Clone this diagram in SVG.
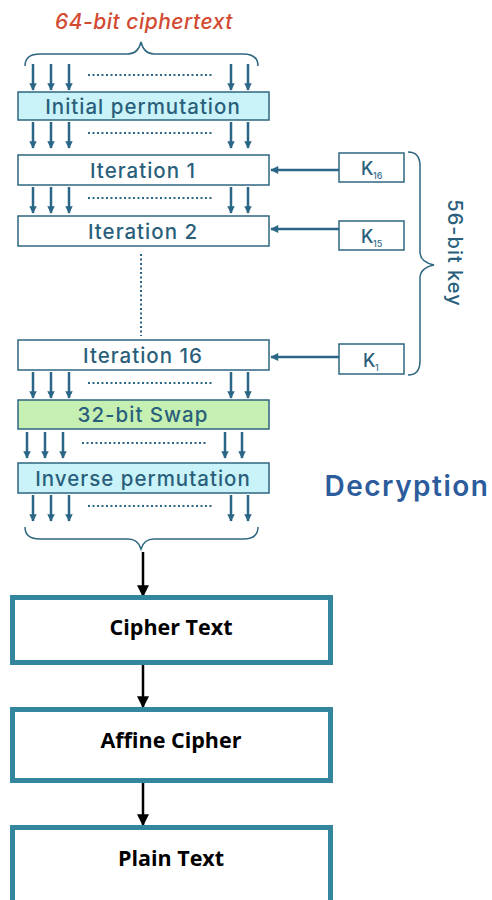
<svg xmlns="http://www.w3.org/2000/svg" width="492" height="900" viewBox="0 0 492 900">
<defs>
<style>
.t{font-family:Inter,"Noto Sans",sans-serif;font-size:20.5px;font-weight:500;letter-spacing:1px;fill:#2a5f7c;text-anchor:middle}
.box{stroke:#2e6680;stroke-width:1.5}
.ar{stroke:#2b6686;stroke-width:2.5}
.dot{stroke:#2b6686;stroke-width:2;stroke-dasharray:2 2.5}
.br{fill:none;stroke:#2e6680;stroke-width:1.5}
.nb{fill:#fff;stroke:#34869e;stroke-width:5}
.nt{font-family:"Open Sans","Liberation Sans",sans-serif;font-size:21.5px;font-weight:bold;fill:#000;text-anchor:middle}
.ka{stroke:#2b6686;stroke-width:2.5}
.k{font-family:Inter,"Noto Sans",sans-serif;font-size:18px;font-weight:500;fill:#2a5f7c}
.ks{font-family:Inter,"Noto Sans",sans-serif;font-size:9px;font-weight:500;fill:#3a7290}
.bl{stroke:#000;stroke-width:2.5}
</style>
<marker id="ah" viewBox="0 0 10 10" refX="9" refY="5" markerWidth="3" markerHeight="3.4" orient="auto"><path d="M0,0 L10,5 L0,10 z" fill="#2b6686"/></marker>
<marker id="bk" viewBox="0 0 10 10" refX="9" refY="5" markerWidth="15" markerHeight="12" markerUnits="userSpaceOnUse" orient="auto"><path d="M0,0 L10,5 L0,10 z" fill="#000"/></marker>
<marker id="ka" viewBox="0 0 10 10" refX="9" refY="5" markerWidth="4" markerHeight="3.2" orient="auto"><path d="M0,0 L10,5 L0,10 z" fill="#2b6686"/></marker>
<g id="arrowrow">
<line class="ar" x1="33" y1="0" x2="33" y2="26" marker-end="url(#ah)"/>
<line class="ar" x1="51" y1="0" x2="51" y2="26" marker-end="url(#ah)"/>
<line class="ar" x1="69" y1="0" x2="69" y2="26" marker-end="url(#ah)"/>
<line class="dot" x1="88" y1="11" x2="213" y2="11"/>
<line class="ar" x1="231" y1="0" x2="231" y2="26" marker-end="url(#ah)"/>
<line class="ar" x1="248" y1="0" x2="248" y2="26" marker-end="url(#ah)"/>
</g>
</defs>
<rect width="492" height="900" fill="#fff"/>

<g id="title">
<text x="144" y="29" font-family="Inter,'Noto Sans',sans-serif" font-size="21" font-weight="500" font-style="italic" letter-spacing="0.5" fill="#d24a32" text-anchor="middle">64-bit ciphertext</text>
<path class="br" d="M25,66 Q25,54 40,54 L128,54 Q138,54 141,42 Q144,54 154,54 L243,54 Q258,54 258,66"/>
</g>

<g id="connectors">
<use href="#arrowrow" y="64"/>
<use href="#arrowrow" y="122"/>
<use href="#arrowrow" y="187"/>
<line class="dot" x1="141" y1="254" x2="141" y2="336" stroke-dasharray="2 4"/>
<use href="#arrowrow" y="372"/>
<use href="#arrowrow" x="-6" y="432"/>
<use href="#arrowrow" y="495"/>
<line class="ka" x1="339" y1="170" x2="271" y2="170" marker-end="url(#ka)"/>
<line class="ka" x1="339" y1="229" x2="271" y2="229" marker-end="url(#ka)"/>
<line class="ka" x1="339" y1="357" x2="271" y2="357" marker-end="url(#ka)"/>
<line class="bl" x1="143" y1="552" x2="143" y2="596" marker-end="url(#bk)"/>
<line class="bl" x1="143" y1="664" x2="143" y2="707" marker-end="url(#bk)"/>
<line class="bl" x1="143" y1="783" x2="143" y2="825" marker-end="url(#bk)"/>
</g>

<g id="initial-permutation">
<rect class="box" x="18" y="92" width="251" height="28" fill="#c9f3f8"/>
<text class="t" x="143" y="113.5">Initial permutation</text>
</g>
<g id="iteration-1">
<rect class="box" x="18" y="155" width="251" height="30" fill="#fff"/>
<text class="t" x="143" y="177.5">Iteration 1</text>
</g>
<g id="iteration-2">
<rect class="box" x="18" y="216" width="251" height="30" fill="#fff"/>
<text class="t" x="143" y="238.5">Iteration 2</text>
</g>
<g id="iteration-16">
<rect class="box" x="18" y="340" width="251" height="30" fill="#fff"/>
<text class="t" x="143" y="362.5">Iteration 16</text>
</g>
<g id="swap">
<rect class="box" x="18" y="400" width="251" height="29" fill="#c6efb2"/>
<text class="t" x="143" y="421.5">32-bit Swap</text>
</g>
<g id="inverse-permutation">
<rect class="box" x="18" y="463" width="251" height="30" fill="#c9f3f8"/>
<text class="t" x="143" y="485.5">Inverse permutation</text>
</g>
<g id="output-brace">
<path class="br" d="M25,527 Q25,539 40,539 L128,539 Q138,539 141,549 Q144,539 154,539 L243,539 Q258,539 258,527"/>
</g>

<g id="k16">
<rect class="box" x="339" y="153" width="65" height="29" fill="#fff"/>
<text class="k" x="361" y="175">K</text>
<text class="ks" x="373" y="179">16</text>
</g>
<g id="k15">
<rect class="box" x="339" y="221" width="65" height="29" fill="#fff"/>
<text class="k" x="361" y="243">K</text>
<text class="ks" x="373" y="247">15</text>
</g>
<g id="k1">
<rect class="box" x="339" y="344" width="65" height="30" fill="#fff"/>
<text class="k" x="363" y="367">K</text>
<text class="ks" x="375" y="371">1</text>
</g>
<g id="key-brace">
<path class="br" d="M408,152 Q420,152 420,166 L420,252 Q420,262 434,265 Q420,268 420,278 L420,361 Q420,375 408,375"/>
<text transform="translate(448,253) rotate(90)" font-family="Inter,'Noto Sans',sans-serif" font-size="20" font-weight="500" letter-spacing="1" fill="#2a5f7c" text-anchor="middle">56-bit key</text>
</g>

<g id="decryption">
<text x="407" y="496" font-family="Inter,'Noto Sans',sans-serif" font-size="28" font-weight="600" letter-spacing="1.5" fill="#2c5c9c" text-anchor="middle">Decryption</text>
</g>

<g id="cipher-text">
<rect class="nb" x="12.5" y="597.5" width="318" height="65"/>
<text class="nt" x="171" y="635">Cipher Text</text>
</g>
<g id="affine-cipher">
<rect class="nb" x="12.5" y="709.5" width="318" height="71"/>
<text class="nt" x="171" y="748">Affine Cipher</text>
</g>
<g id="plain-text">
<rect class="nb" x="12.5" y="827.5" width="318" height="90"/>
<text class="nt" x="171" y="866">Plain Text</text>
</g>
</svg>
